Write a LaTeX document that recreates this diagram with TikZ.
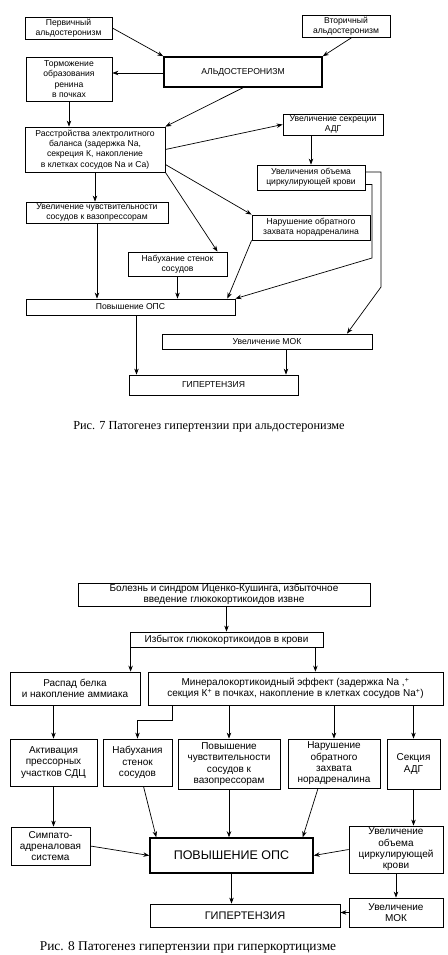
\documentclass[tikz,border=0pt]{standalone}
\usepackage{fontspec}
\setmainfont{Liberation Sans}
\newfontfamily\capfont{Liberation Serif}
\usetikzlibrary{arrows.meta, positioning, calc}

\begin{document}
\begin{tikzpicture}[x=1pt, y=-1pt,
	box/.style={draw, line width=0.8pt, align=center, inner sep=1pt,
		font=\fontsize{8.6}{10.4}\selectfont},
	bigbox/.style={box, font=\fontsize{10}{11.3}\selectfont},
	heavy/.style={line width=1.5pt},
	arr/.style={-{Stealth[length=6pt,width=4.5pt]}, line width=0.7pt},
	capt/.style={font=\capfont\fontsize{12.3}{14}\selectfont}]
	\useasboundingbox (0,0) rectangle (447,955);
	
	% Рис. 7
	\node[box, minimum width=87pt, minimum height=22pt] (perv) at (68.5,28) {Первичный\\альдостеронизм};
	\node[box, minimum width=88pt, minimum height=22pt] (vtor) at (346,26) {Вторичный\\альдостеронизм};
	\node[box, heavy, minimum width=158pt, minimum height=30pt] (aldo) at (243,72) {АЛЬДОСТЕРОНИЗМ};
	\node[box, minimum width=86pt, minimum height=44pt] (torm) at (69,79) {Торможение\\образования\\ренина\\в почках};
	\node[box, minimum width=140pt, minimum height=45pt] (rasstr) at (95,149.5) {Расстройства электролитного\\баланса (задержка Na,\\секреция К, накопление\\в клетках сосудов Na и Ca)};
	\node[box, minimum width=100pt, minimum height=21pt] (adg) at (333,124.5) {Увеличение секреции\\АДГ};
	\node[box, minimum width=108pt, minimum height=25pt] (obiem) at (311,177.5) {Увеличения объема\\циркулирующей крови};
	\node[box, minimum width=142pt, minimum height=21pt] (chuv) at (97,212.5) {Увеличение чувствительности\\сосудов к вазопрессорам};
	\node[box, minimum width=118pt, minimum height=25pt] (narush) at (311,227.5) {Нарушение обратного\\захвата норадреналина};
	\node[box, minimum width=99pt, minimum height=24pt] (nabuh) at (177.5,264) {Набухание стенок\\сосудов};
	\node[box, minimum width=209pt, minimum height=16pt] (ops) at (130.5,307) {Повышение ОПС};
	\node[box, minimum width=210pt, minimum height=15pt] (mok) at (267,341.5) {Увеличение МОК};
	\node[box, minimum width=169pt, minimum height=20pt] (giper) at (213.5,385) {ГИПЕРТЕНЗИЯ};
	\node[capt] (cap7) at (209,427) {Рис. 7 Патогенез гипертензии при альдостеронизме};
	
	\coordinate (bendA) at (372,258);
	\coordinate (bendB) at (381,287);
	
	\draw[arr] (perv.east) -- (aldo.north west);
	\draw[arr] ([xshift=6pt]vtor.south) -- (aldo.north east);
	\draw[arr] (aldo.west |- 0,73) -- (torm.east |- 0,73);
	\draw[arr] (aldo.south) -- (rasstr.north east);
	\draw[arr] (torm.south) -- (torm.south |- rasstr.north);
	\draw[arr] (rasstr.east) -- (adg.west);
	\draw[arr] (adg.south -| obiem.north) -- (obiem.north);
	\draw[arr] (rasstr.south) -- (rasstr.south |- chuv.north);
	\draw[arr] ([yshift=-15pt]rasstr.east) -- (narush.north west);
	\draw[arr] (rasstr.south east) -- ([xshift=40pt]nabuh.north);
	\draw[arr] (chuv.south) -- (chuv.south |- ops.north);
	\draw[arr] (nabuh.south) -- (nabuh.south |- ops.north);
	\draw[arr] (narush.south west) -- ([xshift=-8pt]ops.north east);
	\draw[arr] ([yshift=-7pt]obiem.east) -| (bendA) -- (ops.north east);
	\draw[arr] ([yshift=5.5pt]obiem.east) -| (bendB) -- ([xshift=80pt]mok.north);
	\draw[arr] ([xshift=6pt]ops.south) -- ([xshift=6pt]ops.south |- giper.north);
	\draw[arr] ([xshift=19pt]mok.south) -- ([xshift=19pt]mok.south |- giper.north);
	
	% Рис. 8
	\node[bigbox, minimum width=292pt, minimum height=23pt] (bolezn) at (224,594.5) {Болезнь и синдром Иценко-Кушинга, избыточное\\введение глюкокортикоидов извне};
	\node[bigbox, minimum width=193pt, minimum height=15pt] (izbyt) at (226.5,639.5) {Избыток глюкокортикоидов в крови};
	\node[bigbox, minimum width=130pt, minimum height=33pt] (raspad) at (75,688.5) {Распад белка\\и накопление аммиака};
	\node[bigbox, minimum width=295pt, minimum height=33pt] (miner) at (295.5,688.5) {Минералокортикоидный эффект (задержка Na ,\textsuperscript{+}\\секция К\textsuperscript{+} в почках, накопление в клетках сосудов Na\textsuperscript{+})};
	\node[bigbox, minimum width=87pt, minimum height=47pt] (aktiv) at (53.5,762.5) {Активация\\прессорных\\участков СДЦ};
	\node[bigbox, minimum width=69pt, minimum height=47pt] (nabuhb) at (137.5,762.5) {Набухания\\стенок\\сосудов};
	\node[bigbox, minimum width=102pt, minimum height=50pt] (povysh) at (229,764) {Повышение\\чувствительности\\сосудов к\\вазопрессорам};
	\node[bigbox, minimum width=92pt, minimum height=49pt] (narushb) at (334,763.5) {Нарушение\\обратного\\захвата\\норадреналина};
	\node[bigbox, minimum width=53pt, minimum height=50pt] (sekc) at (413.5,764) {Секция\\АДГ};
	\node[bigbox, minimum width=79pt, minimum height=38pt] (simpat) at (50.5,846) {Симпато-\\адреналовая\\система};
	\node[bigbox, heavy, minimum width=163pt, minimum height=35pt, font=\fontsize{12.5}{14}\selectfont] (opsb) at (231.5,855.5) {ПОВЫШЕНИЕ ОПС};
	\node[bigbox, minimum width=94pt, minimum height=47pt] (krov) at (396,849.5) {Увеличение\\объема\\циркулирующей\\крови};
	\node[bigbox, minimum width=190pt, minimum height=23pt, font=\fontsize{11}{13}\selectfont] (giperb) at (245,915.5) {ГИПЕРТЕНЗИЯ};
	\node[bigbox, minimum width=94pt, minimum height=29pt] (mokb) at (396,912.5) {Увеличение\\МОК};
	\node[capt, font=\capfont\fontsize{13.4}{15}\selectfont] (cap8) at (188,947) {Рис. 8 Патогенез гипертензии при гиперкортицизме};
	
	\coordinate (elbow) at (172,720);
	
	\draw[arr] (bolezn.south -| izbyt.north) -- (izbyt.north);
	\draw[arr] ([xshift=1pt]izbyt.south west) -- ([xshift=1pt]izbyt.south west |- raspad.north);
	\draw[arr] ([xshift=-8pt]izbyt.south east) -- ([xshift=-8pt]izbyt.south east |- miner.north);
	\draw[arr] (raspad.south -| aktiv.north) -- (aktiv.north);
	\draw[arr] (miner.south -| elbow) -- (elbow) -| (nabuhb.north);
	\draw[arr] (miner.south -| povysh.north) -- (povysh.north);
	\draw[arr] (miner.south -| narushb.north) -- (narushb.north);
	\draw[arr] (miner.south -| sekc.north) -- (sekc.north);
	\draw[arr] (aktiv.south) -- (aktiv.south |- simpat.north);
	\draw[arr] ([xshift=6pt]nabuhb.south) -- ([xshift=7pt]opsb.north west);
	\draw[arr] (povysh.south) -- (povysh.south |- opsb.north);
	\draw[arr] ([xshift=-16pt]narushb.south) -- ([xshift=-11pt]opsb.north east);
	\draw[arr] (sekc.south) -- (sekc.south |- krov.north);
	\draw[arr] (simpat.east) -- (opsb.west);
	\draw[arr] (krov.west) -- (opsb.east);
	\draw[arr] (opsb.south) -- (opsb.south |- giperb.north);
	\draw[arr] (krov.south) -- (mokb.north);
	\draw[arr] (mokb.west) -- (mokb.west -| giperb.east);
\end{tikzpicture}
\end{document}
